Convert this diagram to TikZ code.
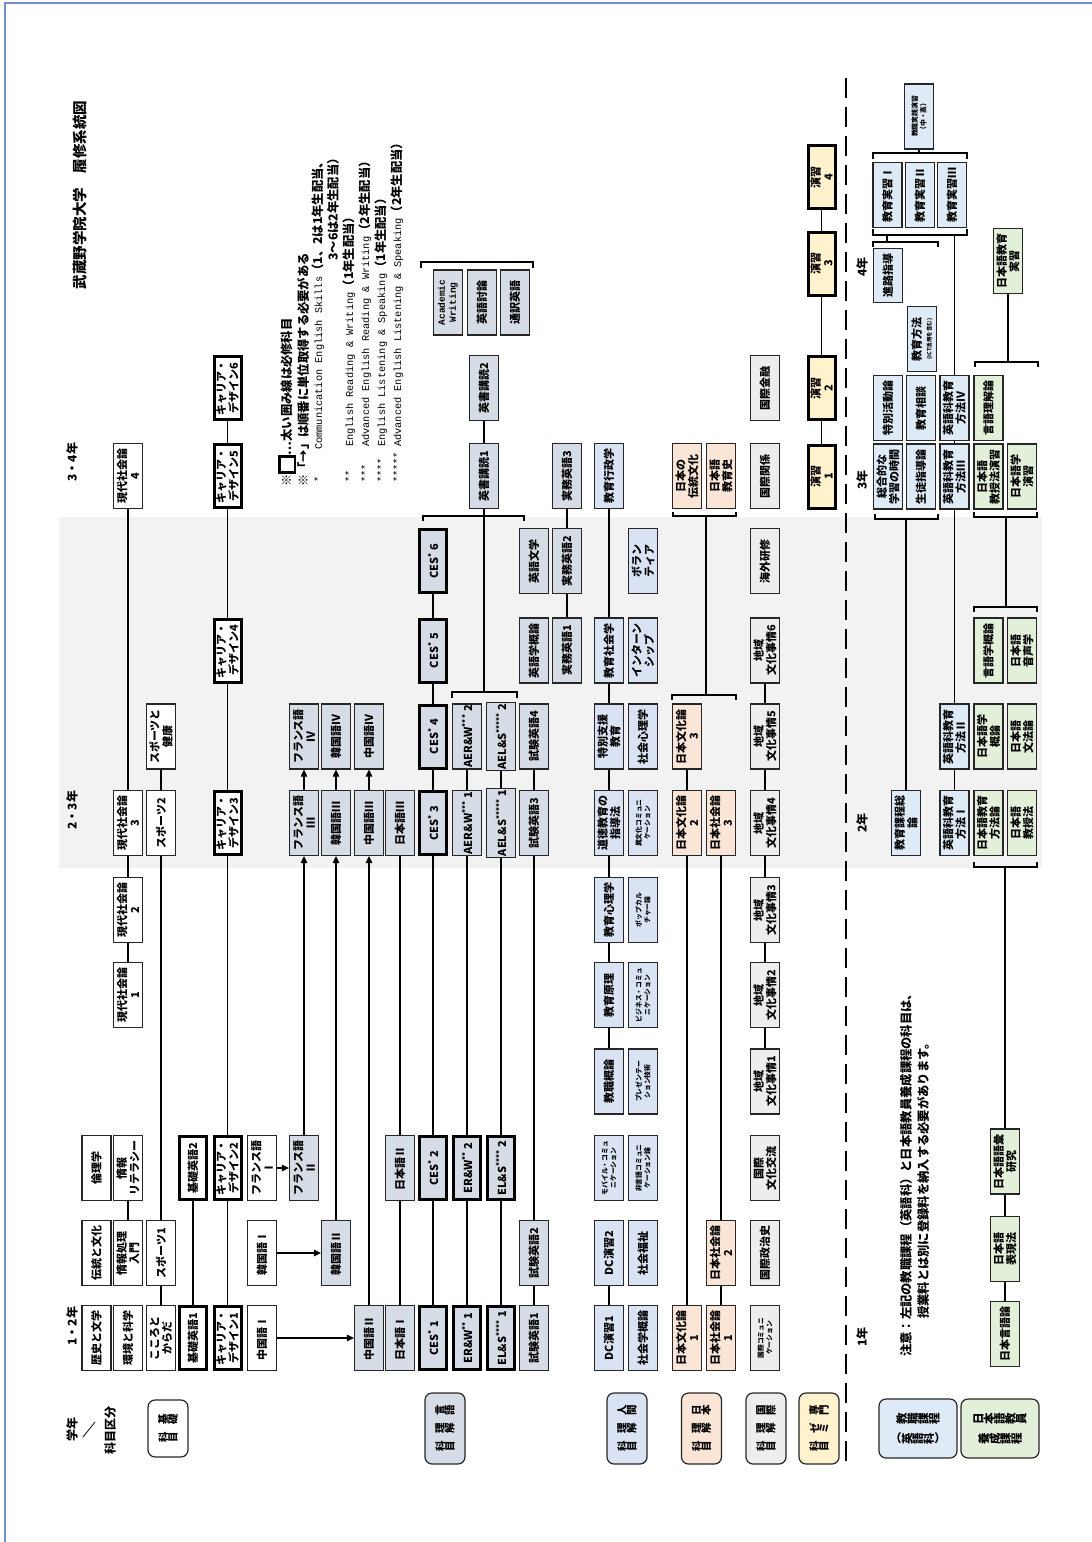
\documentclass[tikz,border=0pt]{standalone}
\usepackage{fontspec}
\usepackage{graphicx}
\setmainfont{Noto Sans CJK JP}
\newfontfamily\mono{Liberation Mono}
\usetikzlibrary{arrows.meta}
\definecolor{gengoC}{HTML}{D6DCE5}
\definecolor{ningenC}{HTML}{DAE3F3}
\definecolor{nihonC}{HTML}{FBE5D6}
\definecolor{kokusaiC}{HTML}{EDEDED}
\definecolor{semiC}{HTML}{FFF2CC}
\definecolor{kyoC}{HTML}{DEEBF7}
\definecolor{jlC}{HTML}{E2F0D9}
\definecolor{shadeC}{HTML}{F2F2F2}
\definecolor{frameC}{HTML}{6F8FD0}
\makeatletter
\newcommand\rotrow[1]{\@tfor\rch:=#1\do{\rotatebox[origin=c]{90}{\rch}}}
\makeatother

\tikzset{subj/.style={draw=black!85,fill=white,line width=1.1pt,rotate=90,minimum width=65pt,minimum height=29pt,
           inner sep=1pt,align=center,font=\bfseries\fontsize{11}{12.6}\selectfont},
         must/.style={subj,draw=black,line width=3pt,minimum width=63pt,minimum height=27pt},
         tinytxt/.style={font=\bfseries\fontsize{6.8}{8.4}\selectfont},
         catbox/.style={draw=black!85,line width=1.2pt,rounded corners=7pt,minimum width=40pt,minimum height=71pt,
           inner sep=1pt,align=center,font=\bfseries\fontsize{10.5}{18}\selectfont},
         link/.style={line width=1.1pt},
         seq/.style={link,-{Triangle[length=7pt,width=6.5pt]}},
         rlab/.style={rotate=90,inner sep=0pt,font=\bfseries\fontsize{12}{14}\selectfont},
         note/.style={rotate=90,inner sep=0pt,anchor=west,font=\bfseries\fontsize{12.3}{14}\selectfont},
         star/.style={rotate=90,inner sep=0pt,anchor=west,font=\mono\fontsize{10.3}{12}\selectfont}}
\newcommand\lgEn[1]{{\mdseries\mono\fontsize{10.3}{12}\selectfont #1}}

\begin{document}
\begin{tikzpicture}[x=1pt,y=-1pt]
\useasboundingbox (0,0) rectangle (1092,1542);
\draw[frameC,line width=1.2pt] (5,1542) -- (5,3) -- (1092,3);
\fill[shadeC] (59,517) rectangle (1042,868);
\draw[line width=2.6pt,dash pattern=on 20pt off 9pt] (846,78) -- (846,1468);

% titles and headers
\node[rotate=90,font=\bfseries\fontsize{14.5}{16}\selectfont] (title) at (80,195) {武蔵野学院大学　履修系統図};
\node[rlab] (hdGakunen) at (72,1429) {学年};
\node[rlab] (hdKubun) at (110,1430) {科目区分};
\draw[line width=0.8pt] (83,1437) -- (95,1422);
\node[rlab] (yr12) at (72,1326) {1・2年};
\node[rlab] (yr23) at (72,810) {2・3年};
\node[rlab] (yr34) at (72,462) {3・4年};
\node[rlab] (yr1) at (862,1337) {1年};
\node[rlab] (yr2) at (862,823) {2年};
\node[rlab] (yr3) at (862,480) {3年};
\node[rlab] (yr4) at (862,267) {4年};

% legend
\node[note] (lg1) at (287,487) {※\hspace{1pt}{\setlength\fboxrule{2.6pt}\setlength\fboxsep{0pt}\raisebox{-2.5pt}{\fbox{\rule{0pt}{13pt}\hspace{13pt}}}}…太い囲み線は必修科目};
\node[note] (lg2) at (303,487) {※「→」は順番に単位取得する必要がある};
\node[star] (st3) at (318,483) {*};
\node[note] (lg3) at (318,450) {\lgEn{Communication English Skills}（1、2は1年生配当、};
\node[note,anchor=east] (lg4) at (333,152) {3〜6は2年生配当）};
\node[star] (st5) at (349,483) {**};
\node[note] (lg5) at (349,447) {\lgEn{English Reading \& Writing}（1年生配当）};
\node[star] (st6) at (365,483) {***};
\node[note] (lg6) at (365,447) {\lgEn{Advanced English Reading \& Writing}（2年生配当）};
\node[star] (st7) at (381,483) {****};
\node[note] (lg7) at (381,447) {\lgEn{English Listening \& Speaking}（1年生配当）};
\node[star] (st8) at (397,483) {*****};
\node[note] (lg8) at (397,447) {\lgEn{Advanced English Listening \& Speaking}（2年生配当）};

% category boxes
\node[catbox,minimum height=57pt] (catKiso) at (168,1428.5) {\rotrow{基礎}\\\rotrow{科目}};
\node[catbox,fill=gengoC] (catGengo) at (445,1428.5) {\rotrow{言語}\\\rotrow{理解}\\\rotrow{科目}};
\node[catbox,fill=ningenC] (catNingen) at (627,1428.5) {\rotrow{人間}\\\rotrow{理解}\\\rotrow{科目}};
\node[catbox,fill=nihonC] (catNihon) at (701.5,1428.5) {\rotrow{日本}\\\rotrow{理解}\\\rotrow{科目}};
\node[catbox,fill=kokusaiC] (catKoku) at (766,1428.5) {\rotrow{国際}\\\rotrow{理解}\\\rotrow{科目}};
\node[catbox,fill=semiC] (catSemi) at (819,1428.5) {\rotrow{専門}\\\rotrow{ゼミ}\\\rotrow{科目}};
\node[catbox,fill=kyoC,minimum width=78pt,minimum height=59pt,font=\bfseries\fontsize{11.5}{20}\selectfont] (catKyo) at (918,1428.5) {\rotrow{教職課程}\\（\rotrow{英語科}）};
\node[catbox,fill=jlC,minimum width=78pt,minimum height=59pt,font=\bfseries\fontsize{11.5}{20}\selectfont] (catJl) at (1000,1428.5) {\rotrow{日本語教員}\\\rotrow{養成課程}};

% basic subjects
\node[subj] (rekishi) at (96.5,1338) {歴史と文学};
\node[subj] (dento) at (96.5,1253) {伝統と文化};
\node[subj] (rinri) at (96.5,1168) {倫理学};
\node[subj] (kankyo) at (128,1338) {環境と科学};
\node[subj] (joho) at (128,1253) {情報処理\\入門};
\node[subj] (johoLit) at (128,1168) {情報\\リテラシー};
\foreach \n/\y in {1/995,2/910,3/823,4/476}
  \node[subj] (gen\n) at (128,\y) {現代社会論\\\n};
\node[subj] (kokoro) at (161,1338) {こころと\\からだ};
\node[subj] (spo1) at (161,1253) {スポーツ1};
\node[subj] (spo2) at (161,823) {スポーツ2};
\node[subj] (spo3) at (161,736.5) {スポーツと\\健康};
\node[must] (kiso1) at (193,1338) {基礎英語1};
\node[must] (kiso2) at (193,1168) {基礎英語2};
\foreach \n/\y in {1/1338,2/1168,3/823,4/650.5,5/476,6/388}
  \node[must] (cd\n) at (227.5,\y) {キャリア・\\デザイン\n};

% languages
\node[subj] (cn1) at (262,1338) {中国語Ⅰ};
\node[subj] (kr1) at (262,1253) {韓国語Ⅰ};
\node[subj] (fr1) at (262,1168) {フランス語\\Ⅰ};
\node[subj,fill=gengoC] (fr2) at (304,1168) {フランス語\\Ⅱ};
\node[subj,fill=gengoC] (fr3) at (304,823) {フランス語\\Ⅲ};
\node[subj,fill=gengoC] (fr4) at (304,736.5) {フランス語\\Ⅳ};
\node[subj,fill=gengoC] (kr2) at (336,1253) {韓国語Ⅱ};
\node[subj,fill=gengoC] (kr3) at (336,823) {韓国語Ⅲ};
\node[subj,fill=gengoC] (kr4) at (336,736.5) {韓国語Ⅳ};
\node[subj,fill=gengoC] (cn2) at (369,1338) {中国語Ⅱ};
\node[subj,fill=gengoC] (cn3) at (369,823) {中国語Ⅲ};
\node[subj,fill=gengoC] (cn4) at (369,736.5) {中国語Ⅳ};
\node[subj,fill=gengoC] (jp1) at (400,1338) {日本語Ⅰ};
\node[subj,fill=gengoC] (jp2) at (400,1168) {日本語Ⅱ};
\node[subj,fill=gengoC] (jp3) at (400,823) {日本語Ⅲ};
\foreach \n/\y in {1/1338,2/1168,3/823,4/736.5,5/650.5,6/561}
  \node[must,fill=gengoC] (ces\n) at (433,\y) {CES\textsuperscript{*}\ \n};
\node[must,fill=gengoC] (erw1) at (467,1338) {ER\&W\textsuperscript{**}\ 1};
\node[must,fill=gengoC] (erw2) at (467,1168) {ER\&W\textsuperscript{**}\ 2};
\node[subj,fill=gengoC] (aerw1) at (467,823) {AER\&W\textsuperscript{***}\ 1};
\node[subj,fill=gengoC] (aerw2) at (467,736.5) {AER\&W\textsuperscript{***}\ 2};
\node[must,fill=gengoC] (els1) at (501,1338) {EL\&S\textsuperscript{****}\ 1};
\node[must,fill=gengoC] (els2) at (501,1168) {EL\&S\textsuperscript{****}\ 2};
\node[subj,fill=gengoC] (aels1) at (501,823) {AEL\&S\textsuperscript{*****}\ 1};
\node[subj,fill=gengoC] (aels2) at (501,736.5) {AEL\&S\textsuperscript{*****}\ 2};
\foreach \n/\y in {1/1338,2/1253,3/823,4/736.5}
  \node[subj,fill=gengoC] (sk\n) at (534,\y) {試験英語\n};
\node[subj,fill=gengoC] (eigaku) at (534,650.5) {英語学概論};
\node[subj,fill=gengoC] (eibun) at (534,561) {英語文学};
\foreach \n/\y in {1/650.5,2/561,3/476}
  \node[subj,fill=gengoC] (jm\n) at (567,\y) {実務英語\n};
\node[subj,fill=gengoC] (eis1) at (484,476) {英書講読1};
\node[subj,fill=gengoC] (eis2) at (484,388) {英書講読2};
\node[subj,fill=gengoC,font=\mono\bfseries\fontsize{9.5}{11}\selectfont] (acw) at (448,302.5) {Academic\\Writing};
\node[subj,fill=gengoC] (eitoron) at (482,302.5) {英語討論};
\node[subj,fill=gengoC] (tsuyaku) at (515,302.5) {通訳英語};

% human understanding
\node[subj,fill=ningenC] (dc1) at (609,1338) {DC演習1};
\node[subj,fill=ningenC] (dc2) at (609,1253) {DC演習2};
\node[subj,fill=ningenC,tinytxt] (mobile) at (609,1168) {モバイル・コミュ\\ニケーション};
\node[subj,fill=ningenC] (kyoshoku) at (609,1081.5) {教職概論};
\node[subj,fill=ningenC] (genri) at (609,995) {教育原理};
\node[subj,fill=ningenC] (shinri) at (609,910) {教育心理学};
\node[subj,fill=ningenC] (dotoku) at (609,823) {道徳教育の\\指導法};
\node[subj,fill=ningenC] (tokushi) at (609,736.5) {特別支援\\教育};
\node[subj,fill=ningenC] (kshakai) at (609,650.5) {教育社会学};
\node[subj,fill=ningenC] (gyosei) at (609,476) {教育行政学};
\node[subj,fill=ningenC] (shakai) at (643,1338) {社会学概論};
\node[subj,fill=ningenC] (fukushi) at (643,1253) {社会福祉};
\node[subj,fill=ningenC,tinytxt] (higengo) at (643,1168) {非言語コミュニ\\ケーション論};
\node[subj,fill=ningenC,tinytxt] (presen) at (643,1081.5) {プレゼンテー\\ション技術};
\node[subj,fill=ningenC,tinytxt] (biz) at (643,995) {ビジネス・コミュ\\ニケーション};
\node[subj,fill=ningenC,tinytxt] (popcul) at (643,910) {ポップカル\\チャー論};
\node[subj,fill=ningenC,tinytxt] (ibunka) at (643,823) {異文化コミュニ\\ケーション};
\node[subj,fill=ningenC] (shashin) at (643,736.5) {社会心理学};
\node[subj,fill=ningenC] (intern) at (643,650.5) {インターン\\シップ};
\node[subj,fill=ningenC] (volun) at (643,561) {ボラン\\ティア};

% japan understanding
\node[subj,fill=nihonC] (nb1) at (687,1338) {日本文化論\\1};
\node[subj,fill=nihonC] (nb2) at (687,823) {日本文化論\\2};
\node[subj,fill=nihonC] (nb3) at (687,736.5) {日本文化論\\3};
\node[subj,fill=nihonC] (dentoJ) at (687,476) {日本の\\伝統文化};
\node[subj,fill=nihonC] (ns1) at (721,1338) {日本社会論\\1};
\node[subj,fill=nihonC] (ns2) at (721,1253) {日本社会論\\2};
\node[subj,fill=nihonC] (ns3) at (721,823) {日本社会論\\3};
\node[subj,fill=nihonC] (nkyoshi) at (721,476) {日本語\\教育史};

% international understanding
\node[subj,fill=kokusaiC,tinytxt] (kcomm) at (765,1338) {国際コミュニ\\ケーション};
\node[subj,fill=kokusaiC] (kseiji) at (765,1253) {国際政治史};
\node[subj,fill=kokusaiC] (kbunka) at (765,1168) {国際\\文化交流};
\foreach \n/\y in {1/1081.5,2/995,3/910,4/823,5/736.5,6/650.5}
  \node[subj,fill=kokusaiC] (ch\n) at (765,\y) {地域\\文化事情\n};
\node[subj,fill=kokusaiC] (kaigai) at (765,561) {海外研修};
\node[subj,fill=kokusaiC] (kankei) at (765,476) {国際関係};
\node[subj,fill=kokusaiC] (kinyu) at (765,388) {国際金融};

% seminars
\foreach \n/\y in {1/476.5,2/388,3/263.5,4/177}
  \node[must,fill=semiC] (en\n) at (821.5,\y) {演習\\\n};

% teaching course
\node[subj,fill=kyoC] (kateiso) at (906,823) {教育課程総\\論};
\node[subj,fill=kyoC] (eika1) at (954.5,823) {英語科教育\\方法Ⅰ};
\node[subj,fill=kyoC] (eika2) at (954.5,736.5) {英語科教育\\方法Ⅱ};
\node[subj,fill=kyoC] (eika3) at (954.5,476.5) {英語科教育\\方法Ⅲ};
\node[subj,fill=kyoC] (eika4) at (954.5,408) {英語科教育\\方法Ⅳ};
\node[subj,fill=kyoC] (sogo) at (888,476.5) {総合的な\\学習の時間};
\node[subj,fill=kyoC] (seito) at (921,476.5) {生徒指導論};
\node[subj,fill=kyoC] (tokkatsu) at (888,408) {特別活動論};
\node[subj,fill=kyoC] (soudan) at (921,408) {教育相談};
\node[subj,fill=kyoC] (hoho) at (922,339) {教育方法\\[-2pt]{\fontsize{5.5}{6}\selectfont (ICT活用を含む)}};
\node[subj,fill=kyoC,minimum width=54pt] (shinro) at (888,275.5) {進路指導};
\node[subj,fill=kyoC] (jisshu1) at (887.5,195) {教育実習Ⅰ};
\node[subj,fill=kyoC] (jisshu2) at (920,195) {教育実習Ⅱ};
\node[subj,fill=kyoC] (jisshu3) at (952,195) {教育実習Ⅲ};
\node[subj,fill=kyoC,tinytxt] (jissen) at (919,116.5) {教職実践演習\\（中・高）};

% japanese teacher course
\node[subj,fill=jlC] (nkhoho) at (988.5,823) {日本語教育\\方法論};
\node[subj,fill=jlC] (nkyoju) at (1022,823) {日本語\\教授法};
\node[subj,fill=jlC] (nbgai) at (988.5,736.5) {日本語学\\概論};
\node[subj,fill=jlC] (nbunpo) at (1022,736.5) {日本語\\文法論};
\node[subj,fill=jlC] (gengaku) at (988.5,650.5) {言語学概論};
\node[subj,fill=jlC] (onsei) at (1022,650.5) {日本語\\音声学};
\node[subj,fill=jlC] (kyojuen) at (988.5,476.5) {日本語\\教授法演習};
\node[subj,fill=jlC] (gakuen) at (1022,476.5) {日本語学\\演習};
\node[subj,fill=jlC] (rikai) at (988.5,408) {言語理解論};
\node[subj,fill=jlC] (nkjisshu) at (1008,261) {日本語教育\\実習};
\node[subj,fill=jlC] (goi) at (1005,1161.5) {日本語語彙\\研究};
\node[subj,fill=jlC] (hyogen) at (1005,1249) {日本語\\表現法};
\node[subj,fill=jlC] (gengoron) at (1005,1334) {日本言語論};

\node[note] (chui1) at (906,1357) {注意：左記の教職課程（英語科）と日本語教員養成課程の科目は、};
\node[note] (chui2) at (923,1319) {授業料とは別に登録料を納入する必要があります。};

% links
\foreach \a/\b in {joho/johoLit,gen1/gen2,gen2/gen3,gen3/gen4,kokoro/spo1,spo1/spo2,spo2/spo3,kiso1/kiso2,
    cd1/cd2,cd2/cd3,cd3/cd4,cd4/cd5,cd5/cd6,jp1/jp2,jp2/jp3,ces1/ces2,ces2/ces3,ces3/ces4,ces4/ces5,ces5/ces6,
    erw1/erw2,erw2/aerw1,aerw1/aerw2,els1/els2,els2/aels1,aels1/aels2,sk1/sk2,sk2/sk3,sk3/sk4,jm1/jm2,jm2/jm3,
    eis1/eis2,dc1/dc2,kyoshoku/genri,genri/shinri,shinri/dotoku,dotoku/tokushi,tokushi/kshakai,kshakai/gyosei,
    nb1/nb2,nb2/nb3,ns1/ns2,ns2/ns3,ch1/ch2,ch2/ch3,ch3/ch4,ch4/ch5,ch5/ch6,en1/en2,en2/en3,en3/en4,
    eika1/eika2,eika2/eika3,eika3/eika4,goi/hyogen,hyogen/gengoron}
  \draw[link] (\a) -- (\b);
\foreach \a/\b in {fr1/fr2,fr2/fr3,fr3/fr4,kr1/kr2,kr2/kr3,kr3/kr4,cn1/cn2,cn2/cn3,cn3/cn4}
  \draw[seq] (\a) -- (\b);

% brackets
\foreach \xa/\xb/\yy/\dd in {423/524/516/5,452/517/692/6,421/533/262/6,673/736/516/-4,672/736/695/5,
    875/938/519/-5,974/1037/517/-5,974/1037/607/5,974/1037/867/-5,975/1038/362/5,
    873/967/235/-6,873/938/242/5,873/967/153/6}
  \draw[link] (\xa,\yy+\dd) -- (\xa,\yy) -- (\xb,\yy) -- (\xb,\yy+\dd);
\coordinate (bEis) at (484,692);
\coordinate (bJaA) at (706,516);
\coordinate (bJaB) at (706,695);
\coordinate (bSogo) at (906,519);
\coordinate (bGa) at (1006,517);
\coordinate (bGb) at (1006,607);
\coordinate (bGc) at (1005,867);
\coordinate (bGd) at (1008,362);
\coordinate (bJsA) at (887,235);
\coordinate (bJsB) at (887,242);
\coordinate (bJu) at (919,153);
\coordinate (bJv) at (954.5,235);
\draw[link] (eis1) -- (bEis);
\draw[link] (bJaA) -- (bJaB);
\draw[link] (bSogo) -- (kateiso);
\draw[link] (bGa) -- (bGb);
\draw[link] (bGc) -- (goi);
\draw[link] (bGd) -- (nkjisshu);
\draw[link] (bJsA) -- (bJsB);
\draw[link] (bJu) -- (jissen);
\draw[link] (bJv) -- (eika4);
\end{tikzpicture}
\end{document}
